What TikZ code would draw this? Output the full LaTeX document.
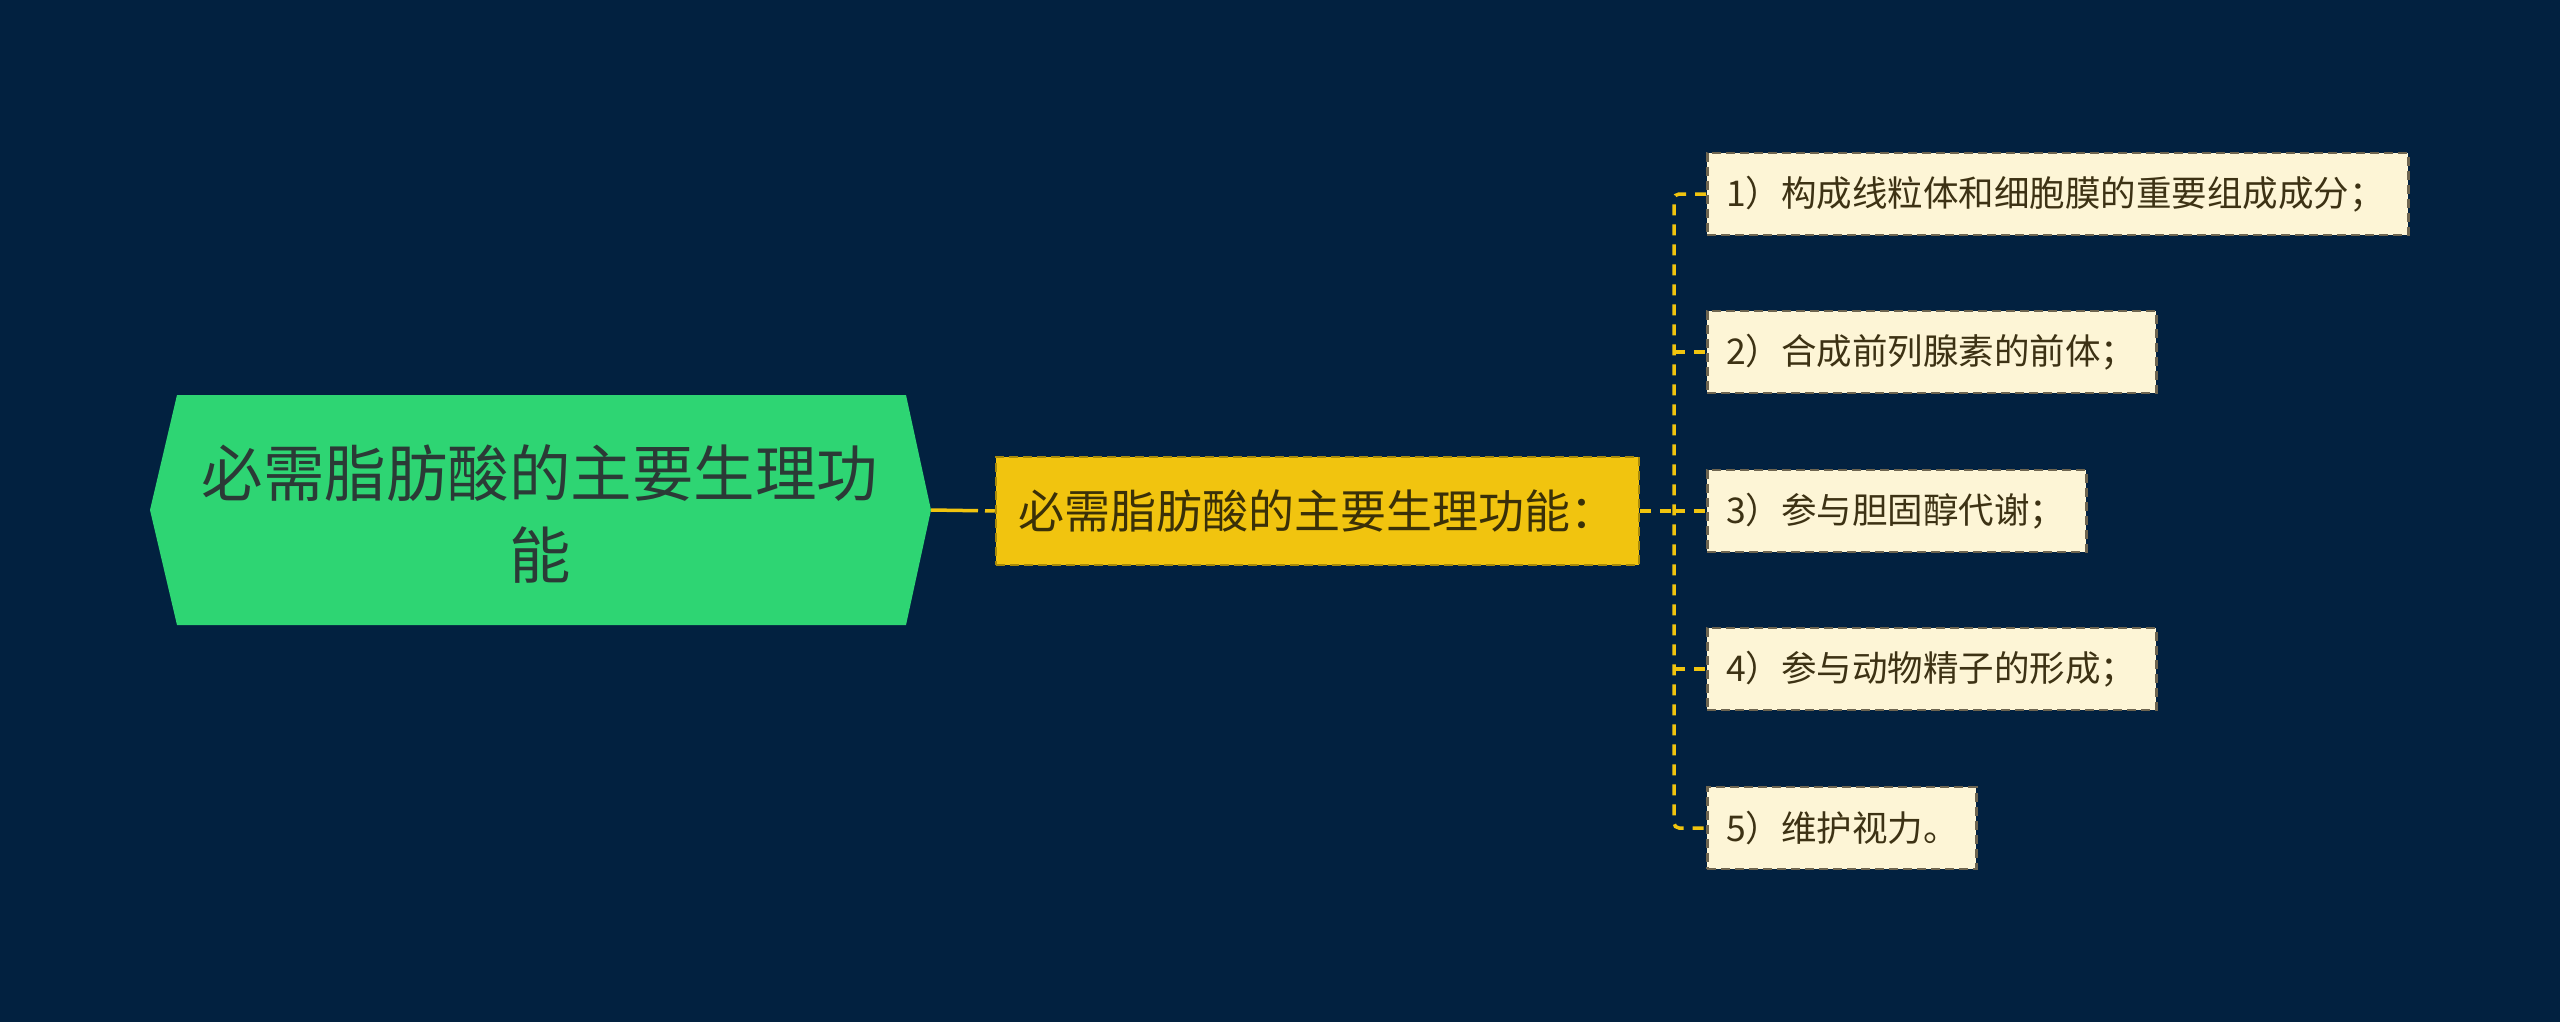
\documentclass[tikz,border=0pt]{standalone}
\usepackage{fontspec}
\setmainfont{Noto Sans CJK SC}
\definecolor{bg}{HTML}{022140}
\definecolor{rootfill}{HTML}{2ED573}
\definecolor{roottext}{HTML}{2B3A36}
\definecolor{midfill}{HTML}{F1C40F}
\definecolor{midborder}{HTML}{A88A0A}
\definecolor{midtext}{HTML}{3A3008}
\definecolor{leaffill}{HTML}{FDF5D6}
\definecolor{leafborder}{HTML}{6E6550}
\definecolor{leaftext}{HTML}{3D3214}
\definecolor{conncol}{HTML}{F1C40F}
\tikzset{
  conn/.style={draw=conncol, line width=3.5pt, dash pattern=on 11pt off 9pt},
  midbox/.style={draw=midborder, fill=midfill, line width=2.5pt, dash pattern=on 9pt off 5pt,
     minimum width=643pt, minimum height=108pt, inner sep=0pt, text=midtext,
     font=\fontsize{46}{54}\selectfont},
  leafbox/.style={draw=leafborder, fill=leaffill, line width=2.5pt, dash pattern=on 9pt off 5pt,
     anchor=west, minimum height=82pt, inner xsep=19pt, inner ysep=0pt, align=left,
     text=leaftext, font=\fontsize{35.5}{42}\selectfont},
}
\begin{document}
\begin{tikzpicture}[x=1pt,y=-1pt]
\useasboundingbox[fill=bg] (0,0) rectangle (2560,1022);
% root hexagon
\coordinate (rootL) at (150,510);
\coordinate (rootR) at (931,510);
\fill[rootfill] (rootL) -- (177,395) -- (906,395) -- (rootR) -- (906,625) -- (177,625) -- cycle;
\node[text=roottext, align=center, font=\fontsize{61.5}{82}\selectfont, inner sep=0pt] (root) at (540,514)
  {必需脂肪酸的主要生理功\\能};
% middle node
\node[midbox] (mid) at (1317.5,511) {必需脂肪酸的主要生理功能：};
% leaves
\node[leafbox, text width=663pt] (l1) at (1706,194) {1）构成线粒体和细胞膜的重要组成成分；};
\node[leafbox, text width=411pt] (l2) at (1706,352) {2）合成前列腺素的前体；};
\node[leafbox, text width=341pt] (l3) at (1706,511) {3）参与胆固醇代谢；};
\node[leafbox, text width=411pt] (l4) at (1706,669) {4）参与动物精子的形成；};
\node[leafbox, text width=231pt] (l5) at (1706,828) {5）维护视力。};
% connectors
\coordinate (trunk) at (1674,511);
\draw[draw=conncol, line width=3.5pt, dash pattern=on 47pt off 7pt on 12pt off 20pt] (rootR) -- (mid.west);
\draw[conn] (mid.east) -- (trunk);
\draw[conn, rounded corners=5pt] (l1.west) -| (trunk) |- (l5.west);
\draw[conn] (trunk |- l2.west) -- (l2.west);
\draw[conn] (trunk) -- (l3.west);
\draw[conn] (trunk |- l4.west) -- (l4.west);
\end{tikzpicture}
\end{document}
